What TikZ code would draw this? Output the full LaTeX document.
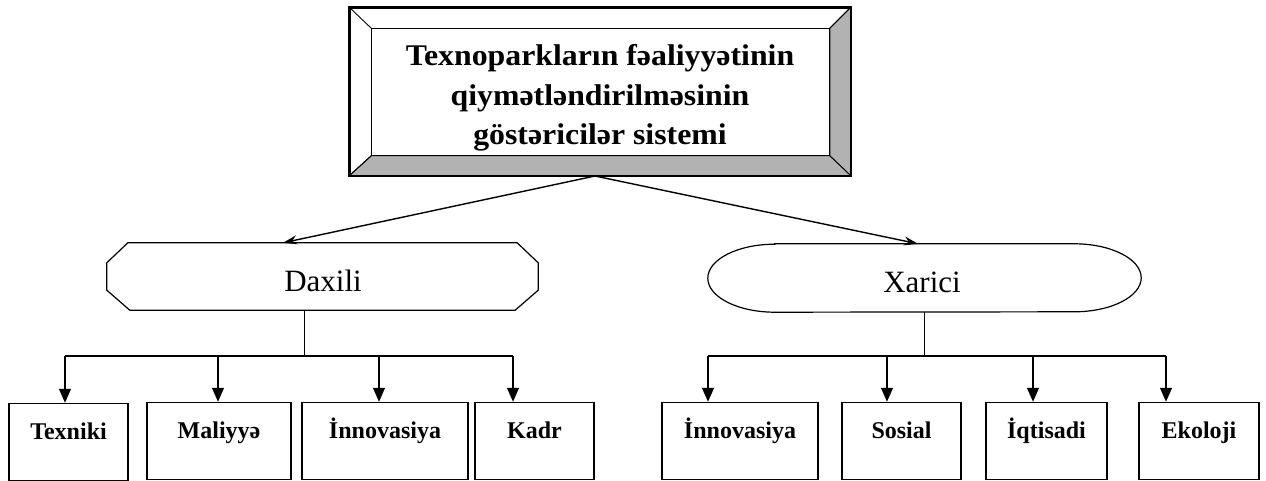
\documentclass[tikz,border=0pt]{standalone}
\usepackage{fontspec}
\setmainfont{Liberation Serif}
\newfontfamily\titlefont[FakeStretch=1.06]{Liberation Serif}
\usetikzlibrary{arrows.meta}
\begin{document}
\begin{tikzpicture}[x=1pt,y=-1pt,
  frame/.style={draw,line width=1.6pt,minimum width=500pt,minimum height=167pt,inner sep=0pt},
  bevelline/.style={draw,line width=0.9pt},
  bevelfill/.style={fill=black!30,draw,line width=0.9pt},
  titletext/.style={align=center,font=\titlefont\bfseries\fontsize{30}{39.5}\selectfont,inner sep=0pt},
  groupshape/.style={draw,line width=1.2pt},
  grouptext/.style={font=\fontsize{31}{34}\selectfont,inner sep=0pt},
  leaf/.style={draw,line width=1.5pt,inner sep=0pt,minimum height=77pt,
    font=\bfseries\fontsize{24}{27}\selectfont,text height=17pt,text depth=22pt},
  conn/.style={line width=1.3pt},
  toparrow/.style={line width=1.4pt,-{Stealth[length=14pt,width=9pt]}},
  leafarrow/.style={line width=1.3pt,-{Triangle[length=14pt,width=12pt]}}]
\useasboundingbox (0,0) rectangle (1266,481);

% title frame
\node[frame] (top) at (600,91.5) {};
\coordinate (inw) at ([xshift=22pt,yshift=-21pt]top.north west);
\coordinate (ine) at ([xshift=-21pt,yshift=-21pt]top.north east);
\coordinate (isw) at ([xshift=22pt,yshift=20pt]top.south west);
\coordinate (ise) at ([xshift=-21pt,yshift=20pt]top.south east);
\path[bevelfill] (top.north east) -- (top.south east) -- (ise) -- (ine) -- cycle;
\path[bevelfill] (top.south west) -- (top.south east) -- (ise) -- (isw) -- cycle;
\draw[bevelline] (inw) rectangle (ise);
\draw[bevelline] (top.north west) -- (inw);
\draw[bevelline] (top.north east) -- (ine);
\draw[bevelline] (top.south west) -- (isw);
\draw[line width=1.6pt] (top.north west) rectangle (top.south east);
\node[titletext] (ttl) at (600,98) {Texnoparkların fəaliyyətinin\\qiymətləndirilməsinin\\göstəricilər sistemi};

% group shapes
\node[minimum width=431pt,minimum height=67pt,inner sep=0pt] (dax) at (322.5,276.5) {};
\node[grouptext] (daxt) at (323,281) {Daxili};
\draw[groupshape] ([xshift=21pt]dax.north west) -- ([xshift=-21pt]dax.north east)
  -- ([yshift=-20pt]dax.north east) -- ([yshift=20pt]dax.south east)
  -- ([xshift=-23pt]dax.south east) -- ([xshift=23pt]dax.south west)
  -- ([yshift=20pt]dax.south west) -- ([yshift=-20pt]dax.north west) -- cycle;

\node[minimum width=433pt,minimum height=68pt,inner sep=0pt] (xar) at (924.5,278) {};
\node[grouptext] (xart) at (922,282) {Xarici};
\draw[groupshape] ([xshift=67pt]xar.north west) -- ([xshift=-67pt]xar.north east)
  arc[start angle=90,end angle=-90,x radius=67pt,y radius=34pt]
  -- ([xshift=67pt]xar.south west)
  arc[start angle=270,end angle=90,x radius=67pt,y radius=34pt] -- cycle;

% arrows from title
\coordinate (src) at (595,176);
\draw[toparrow] (src) -- ([xshift=-39.5pt]dax.north);
\draw[toparrow] (src) -- ([xshift=-6.5pt]xar.north);

% leaves
\node[leaf,minimum width=119pt] (tex) at (68.5,442) {Texniki};
\node[leaf,minimum width=144pt] (mal) at (219,441) {Maliyyə};
\node[leaf,minimum width=166pt] (inn1) at (385,441) {İnnovasiya};
\node[leaf,minimum width=119pt] (kad) at (534.5,441) {Kadr};
\node[leaf,minimum width=156pt] (inn2) at (740,441) {İnnovasiya};
\node[leaf,minimum width=119pt] (sos) at (901.5,441) {Sosial};
\node[leaf,minimum width=121pt] (iqt) at (1046.5,441) {İqtisadi};
\node[leaf,minimum width=120pt] (eko) at (1199,441) {Ekoloji};

\coordinate (lbus) at (0,356);
\coordinate (a1) at ([xshift=-3.5pt]tex.north);
\coordinate (a2) at ([xshift=-1pt]mal.north);
\coordinate (a3) at ([xshift=-6pt]inn1.north);
\coordinate (a4) at ([xshift=-21.5pt]kad.north);
\coordinate (b1) at ([xshift=-32pt]inn2.north);
\coordinate (b2) at ([xshift=-14.5pt]sos.north);
\coordinate (b3) at ([xshift=-13.5pt]iqt.north);
\coordinate (b4) at ([xshift=-33pt]eko.north);
\coordinate (dd) at ([xshift=-18pt]dax.south);

\draw[conn] (dd) -- (dd |- lbus);
\draw[conn] (a1 |- lbus) -- (a4 |- lbus);
\draw[conn] (xar.south) -- (xar.south |- lbus);
\draw[conn] (b1 |- lbus) -- (b4 |- lbus);
\foreach \c in {a1,a2,a3,a4,b1,b2,b3,b4}
  \draw[leafarrow] (\c |- lbus) -- (\c);
\end{tikzpicture}
\end{document}
